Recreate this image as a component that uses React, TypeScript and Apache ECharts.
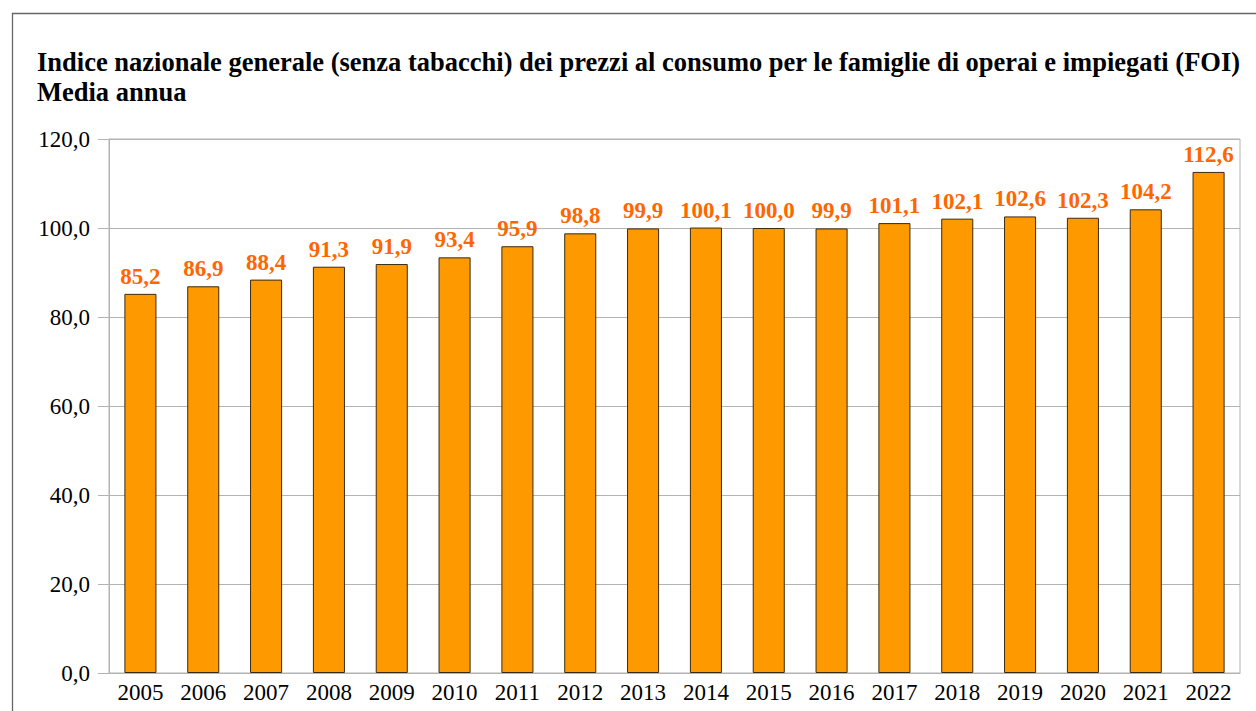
import React, { useEffect, useRef } from "react";
import * as echarts from "echarts";

const categories = ["2005","2006","2007","2008","2009","2010","2011","2012","2013","2014","2015","2016","2017","2018","2019","2020","2021","2022"];
const values = [85.2, 86.9, 88.4, 91.3, 91.9, 93.4, 95.9, 98.8, 99.9, 100.1, 100.0, 99.9, 101.1, 102.1, 102.6, 102.3, 104.2, 112.6];
const titleLines = [
  "Indice nazionale generale (senza tabacchi) dei prezzi al consumo per le famiglie di operai e impiegati (FOI)",
  "Media annua",
];

const fmt = (v: number) => v.toFixed(1).replace(".", ",");
const FONT = "Liberation Serif";

export default function App() {
  const ref = useRef<HTMLDivElement>(null);
  useEffect(() => {
    if (!ref.current) return;
    const chart = echarts.init(ref.current, null, { renderer: "svg" });
    chart.setOption({
      animation: false,
      backgroundColor: "#ffffff",
      textStyle: { fontFamily: FONT },
      graphic: [
        {
          type: "rect",
          shape: { x: 12.5, y: 13.5, width: 1400, height: 900 },
          style: { fill: "none", stroke: "#666666", lineWidth: 1.3 },
          silent: true,
        },
      ],
      title: {
        text: titleLines.join("\n"),
        left: 32,
        top: 42,
        textStyle: {
          fontFamily: FONT,
          fontSize: 26.5,
          fontWeight: "bold",
          color: "#000",
          lineHeight: 30,
        },
      },
      grid: {
        left: 109,
        right: 16,
        top: 139,
        bottom: 38,
        show: true,
        borderColor: "#b3b3b3",
        borderWidth: 1,
      },
      xAxis: {
        type: "category",
        data: categories,
        axisLine: { lineStyle: { color: "#b3b3b3" } },
        axisTick: { show: false },
        axisLabel: {
          fontFamily: FONT,
          fontSize: 23,
          color: "#000",
          margin: 8,
        },
      },
      yAxis: {
        type: "value",
        min: 0,
        max: 120,
        interval: 20,
        axisLine: { show: true, lineStyle: { color: "#b3b3b3" } },
        axisTick: { show: true, length: 11, lineStyle: { color: "#b3b3b3" } },
        splitLine: { lineStyle: { color: "#b3b3b3" } },
        axisLabel: {
          fontFamily: FONT,
          fontSize: 23,
          color: "#000",
          margin: 19,
          formatter: (v: number) => fmt(v),
        },
      },
      series: [
        {
          type: "bar",
          data: values,
          barWidth: "51%",
          itemStyle: { color: "#ff9900", borderColor: "#3a2a10", borderWidth: 1 },
          label: {
            show: true,
            position: "top",
            distance: 6,
            fontFamily: FONT,
            fontSize: 23,
            fontWeight: "bold",
            color: "#ff6600",
            formatter: (p: any) => fmt(p.value),
          },
        },
      ],
    });
    return () => chart.dispose();
  }, []);
  return (
    <div
      ref={ref}
      style={{ position: "fixed", left: 0, top: 0, width: 1256, height: 711 }}
    />
  );
}
